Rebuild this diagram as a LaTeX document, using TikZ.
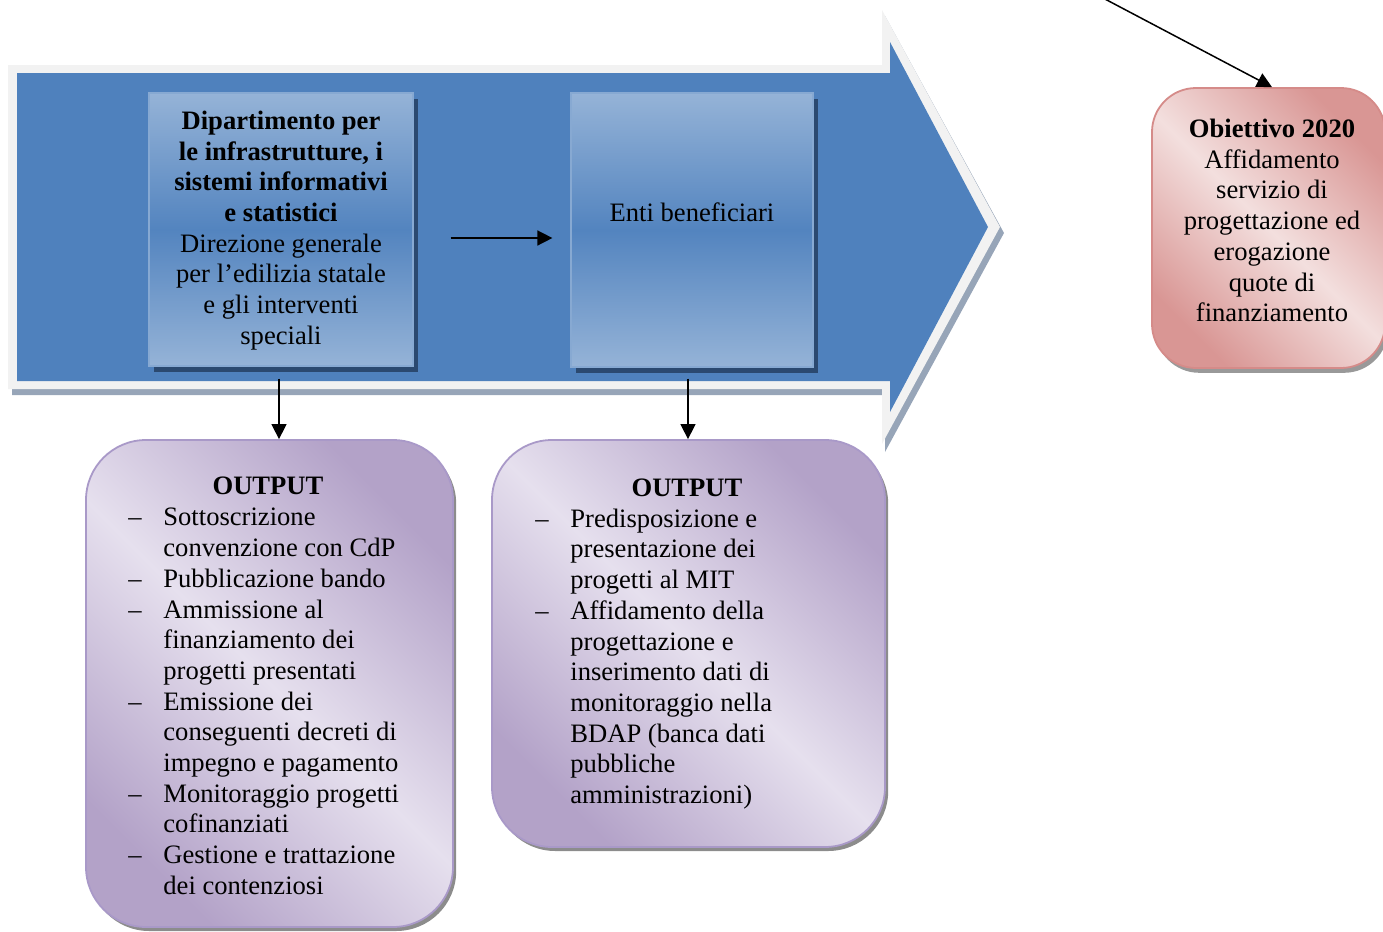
\documentclass[tikz,border=0pt]{standalone}
\usepackage{fontspec}
\setmainfont{Liberation Serif}
\usetikzlibrary{arrows.meta,calc,shadows}

\definecolor{procblue}{HTML}{4F81BD}
\definecolor{procrim}{HTML}{F2F2F2}
\definecolor{procshadow}{HTML}{97A5B8}
\definecolor{unitlight}{HTML}{95B3D7}
\definecolor{unitmid}{HTML}{5384BF}
\definecolor{unitshadow}{HTML}{2B4970}
\definecolor{outlight}{HTML}{E6E0EE}
\definecolor{outdark}{HTML}{B3A2C8}
\definecolor{outborder}{HTML}{A999C8}
\definecolor{goallight}{HTML}{F3DFDE}
\definecolor{goaldark}{HTML}{D99694}
\definecolor{goalborder}{HTML}{D58B89}

\newcommand\diagfont{\fontsize{13.3pt}{15.35pt}\selectfont}
\newcommand\itm{\makebox[17.5pt][l]{–}}
\newcommand\cnt{\hspace*{17.5pt}}

\begin{document}
\begin{tikzpicture}[x=0.5pt,y=-0.5pt,
  unitbox/.style={rectangle, inner sep=0pt,
    top color=unitlight, bottom color=unitlight, middle color=unitmid,
    draw=unitlight!80!procblue, line width=0.6pt,
    drop shadow={shadow xshift=2.5pt, shadow yshift=-3.2pt, fill=unitshadow, opacity=1}},
  outbox/.style={rectangle, rounded corners=30pt, inner sep=0pt,
    left color=outdark, right color=outdark, middle color=outlight, shading angle=135,
    draw=outborder, line width=0.9pt,
    drop shadow={shadow xshift=1.6pt, shadow yshift=-2pt, fill=black!45, opacity=1}},
  goalbox/.style={rectangle, rounded corners=22pt, inner sep=0pt,
    left color=goaldark, right color=goaldark, middle color=goallight, shading angle=135,
    draw=goalborder, line width=0.9pt,
    drop shadow={shadow xshift=1.6pt, shadow yshift=-2.4pt, fill=black!40, opacity=1}},
  txt/.style={inner sep=0pt, font=\diagfont, text=black},
  conn/.style={line width=0.75pt, -{Triangle[length=7.5pt,width=7.5pt]}}
]
\useasboundingbox (0,0) rectangle (1383,932);

% large process arrow: shadow, light rim, blue body
\fill[procshadow] (12,71) -- (885,71) -- (885,16) -- (1004,233) -- (885,452) -- (885,395) -- (12,395) -- cycle;
\fill[procrim] (8,65) -- (882,65) -- (882,10) -- (1000,227) -- (882,444) -- (882,389) -- (8,389) -- cycle;
\fill[procblue] (17,73) -- (890,73) -- (890,42) -- (988,227) -- (890,412) -- (890,381) -- (17,381) -- cycle;

% units inside the process
\node[unitbox, minimum width=132pt, minimum height=136.5pt] (dip) at (281,229.5) {};
\node[unitbox, minimum width=121pt, minimum height=137pt] (enti) at (692,230) {};

\node[txt, align=center] (diptext) at (281,230.5) {%
  \textbf{Dipartimento per}\\ \textbf{le infrastrutture, i}\\ \textbf{sistemi informativi}\\ \textbf{e statistici}\\
  Direzione generale\\ per l’edilizia statale\\ e gli interventi\\ speciali};
\node[txt] (entitext) at (692,212) {Enti beneficiari};

% outputs
\node[outbox, minimum width=183.5pt, minimum height=243.5pt] (outA) at (269.5,683.5) {};
\node[outbox, minimum width=196.5pt, minimum height=203.5pt] (outB) at (688.5,643.5) {};

\node[txt, font=\diagfont\bfseries] (outAtitle) at (268,486) {OUTPUT};
\node[txt, align=left, anchor=west] (outAlist) at (128,701.5) {%
  \itm Sottoscrizione\\ \cnt convenzione con CdP\\
  \itm Pubblicazione bando\\
  \itm Ammissione al\\ \cnt finanziamento dei\\ \cnt progetti presentati\\
  \itm Emissione dei\\ \cnt conseguenti decreti di\\ \cnt impegno e pagamento\\
  \itm Monitoraggio progetti\\ \cnt cofinanziati\\
  \itm Gestione e trattazione\\ \cnt dei contenziosi};

\node[txt, font=\diagfont\bfseries] (outBtitle) at (687,488) {OUTPUT};
\node[txt, align=left, anchor=west] (outBlist) at (535,659) {%
  \itm Predisposizione e\\ \cnt presentazione dei\\ \cnt progetti al MIT\\
  \itm Affidamento della\\ \cnt progettazione e\\ \cnt inserimento dati di\\
  \cnt monitoraggio nella\\ \cnt BDAP (banca dati\\ \cnt pubbliche\\ \cnt amministrazioni)};

% goal
\node[goalbox, minimum width=116.5pt, minimum height=140pt] (goal) at (1268.5,228) {};
\node[txt, align=center] (goaltext) at (1272,220.5) {%
  \textbf{Obiettivo 2020}\\ Affidamento\\ servizio di\\ progettazione ed\\ erogazione\\ quote di\\ finanziamento};

% connectors
\coordinate (src) at (1103,-2);
\coordinate (goaltop) at ($(goal.north)+(3.5,0)$);
\coordinate (hstart) at ($(dip.east)+(37,8.5)$);
\coordinate (hend) at ($(enti.west)+(-18,8)$);
\coordinate (dipout) at ($(dip.south)+(-2,12)$);
\coordinate (entiout) at ($(enti.south)+(-4,11)$);
\draw[conn] (src) -- (goaltop);
\draw[conn] (hstart) -- (hend);
\draw[conn] (dipout) -- (dipout |- outA.north);
\draw[conn] (entiout) -- (entiout |- outB.north);
\end{tikzpicture}
\end{document}
